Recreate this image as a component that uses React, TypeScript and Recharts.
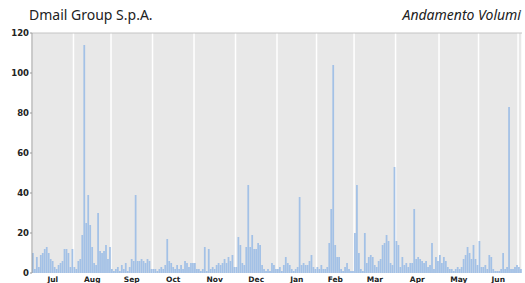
import React from 'react';
import { ComposedChart, Bar, XAxis, YAxis, CartesianGrid, ReferenceLine } from 'recharts';

const monthLabels = ['Jul', 'Aug', 'Sep', 'Oct', 'Nov', 'Dec', 'Jan', 'Feb', 'Mar', 'Apr', 'May', 'Jun'];

const jul = [10, 2, 8, 3, 9, 10, 12, 13, 10, 7, 6, 3, 2, 4, 5, 6, 12, 12, 10, 3, 12];
const aug = [3, 2, 6, 7, 19, 114, 25, 39, 24, 13, 5, 4, 30, 11, 10, 11, 14, 7, 13];
const sep = [2, 1, 2, 3, 1, 4, 2, 5, 1, 3, 7, 6, 39, 6, 6, 7, 6, 5, 7, 6, 2];
const oct = [2, 2, 1, 2, 3, 2, 4, 17, 6, 5, 3, 2, 4, 2, 4, 2, 6, 5, 3, 5, 5];
const nov = [5, 2, 2, 1, 2, 13, 1, 12, 2, 3, 2, 4, 5, 4, 5, 7, 5, 8, 6, 9, 3];
const dec = [3, 18, 14, 5, 4, 13, 44, 13, 19, 12, 12, 15, 14, 4, 2, 1, 2, 1, 5, 4, 2];
const jan = [2, 3, 1, 4, 8, 5, 4, 2, 1, 2, 3, 38, 4, 5, 4, 4, 6, 9, 3, 2];
const feb = [3, 2, 4, 2, 2, 3, 15, 32, 104, 14, 8, 8, 2, 1, 3, 5, 2, 1, 1];
const mar = [20, 44, 10, 2, 1, 20, 5, 8, 9, 8, 4, 3, 6, 7, 14, 15, 19, 16, 5, 4, 53];
const apr = [16, 14, 3, 8, 4, 5, 3, 5, 5, 32, 7, 8, 7, 6, 5, 6, 3, 4, 15, 2, 8, 6];
const may = [9, 5, 8, 6, 3, 2, 2, 1, 2, 3, 2, 3, 7, 9, 13, 10, 7, 14, 7, 4];
const jun = [16, 3, 3, 4, 2, 9, 8, 2, 1, 1, 1, 2, 10, 2, 3, 83, 2, 2, 3, 4];
const julNext = [3, 2];

const monthlyVolumes = [jul, aug, sep, oct, nov, dec, jan, feb, mar, apr, may, jun, julNext];
const yTicks = [0, 20, 40, 60, 80, 100, 120];

const volumes = monthlyVolumes.flat();
const total = volumes.length;
const data = volumes.map((v, i) => ({ x: i + 0.5, v }));
const boundaries: number[] = [0];
monthlyVolumes.forEach((m) => boundaries.push(boundaries[boundaries.length - 1] + m.length));
const centers = monthLabels.map((_, i) => (boundaries[i] + boundaries[i + 1]) / 2);

const axisFont = 'DejaVu Sans';

export default function App() {
  return (
    <div style={{ position: 'absolute', left: 0, top: 0, width: 525, height: 283, background: '#fff', overflow: 'hidden' }}>
      <ComposedChart
        width={525}
        height={283}
        data={data}
        margin={{ top: 33, right: 3, bottom: 0, left: 0 }}
      >
        <CartesianGrid horizontal={false} vertical stroke="#ffffff" strokeWidth={1.5} fill="#e8e8e8" fillOpacity={1} />
        <XAxis
          dataKey="x"
          type="number"
          domain={[0, total]}
          ticks={boundaries}
          interval={0}
          tickFormatter={() => ''}
          tickSize={3}
          height={0}
          axisLine={{ stroke: '#999' }}
          tickLine={{ stroke: '#999' }}
          allowDataOverflow
        />
        <XAxis
          xAxisId="m"
          dataKey="x"
          type="number"
          domain={[0, total]}
          ticks={centers}
          interval={0}
          tickFormatter={(_v: number, i: number) => monthLabels[i]}
          height={10}
          axisLine={false}
          tickLine={false}
          tickSize={4}
          tickMargin={0}
          tick={{ fontSize: 7.5, fontWeight: 'bold', fill: '#222', fontFamily: axisFont }}
          allowDataOverflow
        />
        <YAxis
          domain={[0, 120]}
          ticks={yTicks}
          interval={0}
          width={32}
          tickSize={2}
          tickMargin={1}
          axisLine={{ stroke: '#999' }}
          tickLine={{ stroke: '#999' }}
          tick={{ fontSize: 8.5, fontWeight: 'bold', fill: '#222', fontFamily: axisFont }}
        />
        <ReferenceLine y={120} stroke="#c4c4c4" />
        <Bar dataKey="v" fill="#a3c1e6" barSize={2.2} isAnimationActive={false} />
      </ComposedChart>
      <div style={{ position: 'absolute', left: 29, top: 6, fontFamily: 'Noto Sans', fontSize: 14, color: '#222', lineHeight: '18px' }}>
        Dmail Group S.p.A.
      </div>
      <div style={{ position: 'absolute', right: 4, top: 6, fontFamily: 'Noto Sans', fontStyle: 'italic', fontSize: 14, color: '#222', lineHeight: '18px' }}>
        Andamento Volumi
      </div>
    </div>
  );
}
